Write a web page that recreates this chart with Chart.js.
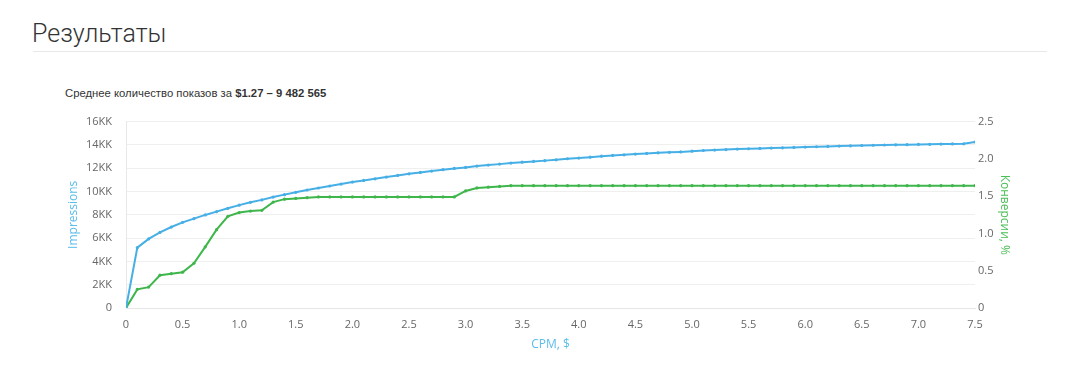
<!DOCTYPE html>
<html><head><meta charset="utf-8">
<script src="https://cdn.jsdelivr.net/npm/chart.js@4.4.0/dist/chart.umd.min.js"></script>
<style>
html,body{margin:0;padding:0;background:#fff;width:1080px;height:374px;overflow:hidden;}
#h{position:absolute;left:32px;top:19px;font-family:Roboto,"Liberation Sans",sans-serif;font-weight:300;font-size:25px;color:#333;margin:0;line-height:30px;}
#rule{position:absolute;left:33px;top:51px;width:1014px;height:1px;background:#e8e8e8;}
#sub{position:absolute;left:65px;top:85px;font-family:"Liberation Sans",Arial,sans-serif;font-size:11.3px;color:#333;line-height:16px;}
#wrap{position:absolute;left:0;top:101px;width:1080px;height:259px;}
</style></head><body>
<div id="h">Результаты</div>
<div id="rule"></div>
<div id="sub">Среднее количество показов за <b>$1.27 – 9 482 565</b></div>
<div id="wrap"><canvas id="c"></canvas></div>
<script>
const cpm = [0,0.1,0.2,0.3,0.4,0.5,0.6,0.7,0.8,0.9,1.0,1.1,1.2,1.3,1.4,1.5,1.6,1.7,1.8,1.9,2.0,2.1,2.2,2.3,2.4,2.5,2.6,2.7,2.8,2.9,3.0,3.1,3.2,3.3,3.4,3.5,3.6,3.7,3.8,3.9,4.0,4.1,4.2,4.3,4.4,4.5,4.6,4.7,4.8,4.9,5.0,5.1,5.2,5.3,5.4,5.5,5.6,5.7,5.8,5.9,6.0,6.1,6.2,6.3,6.4,6.5,6.6,6.7,6.8,6.9,7.0,7.1,7.2,7.3,7.4,7.5];
// impressions, millions (KK)
const impressions = [0,5.18,5.93,6.49,6.95,7.35,7.67,7.99,8.27,8.56,8.83,9.07,9.28,9.52,9.73,9.93,10.13,10.30,10.47,10.64,10.81,10.95,11.09,11.24,11.38,11.52,11.64,11.75,11.87,11.98,12.07,12.18,12.27,12.35,12.44,12.52,12.58,12.65,12.72,12.81,12.87,12.95,13.03,13.10,13.15,13.21,13.27,13.32,13.36,13.40,13.46,13.52,13.56,13.60,13.64,13.67,13.70,13.73,13.75,13.78,13.81,13.84,13.87,13.90,13.92,13.95,13.97,13.99,14.01,14.02,14.04,14.05,14.07,14.08,14.09,14.25];
// conversion, %
const conversion = [0,0.25,0.28,0.44,0.46,0.48,0.60,0.82,1.05,1.23,1.28,1.30,1.31,1.42,1.46,1.47,1.48,1.49,1.49,1.49,1.49,1.49,1.49,1.49,1.49,1.49,1.49,1.49,1.49,1.49,1.57,1.61,1.62,1.63,1.64,1.64,1.64,1.64,1.64,1.64,1.64,1.64,1.64,1.64,1.64,1.64,1.64,1.64,1.64,1.64,1.64,1.64,1.64,1.64,1.64,1.64,1.64,1.64,1.64,1.64,1.64,1.64,1.64,1.64,1.64,1.64,1.64,1.64,1.64,1.64,1.64,1.64,1.64,1.64,1.64,1.64];
const xTitle = 'CPM, $';
const leftTitle = 'Impressions';
const rightTitle = 'Конверсии, %';

const BLUE = '#46afe6', GREEN = '#3fb64b';
const tickFont = {family:'"Open Sans", sans-serif', size:11};
const titleFont = {family:'"Open Sans", sans-serif', size:12};

new Chart(document.getElementById('c'), {
  type:'line',
  data:{
    datasets:[
      {label:leftTitle, data:cpm.map((x,i)=>({x, y:impressions[i]})), yAxisID:'y', borderColor:BLUE, backgroundColor:BLUE, borderWidth:2, pointRadius:1.6, pointHoverRadius:2, pointBorderWidth:0, tension:0, order:1},
      {label:rightTitle, data:cpm.map((x,i)=>({x, y:conversion[i]})), yAxisID:'y1', borderColor:GREEN, backgroundColor:GREEN, borderWidth:2, pointRadius:1.6, pointHoverRadius:2, pointBorderWidth:0, tension:0, order:2}
    ]
  },
  options:{
    responsive:true, maintainAspectRatio:false, animation:false,
    layout:{padding:{top:11,left:0,right:0,bottom:0}},
    plugins:{legend:{display:false}, tooltip:{enabled:false}},
    scales:{
      x:{type:'linear', min:0, max:7.5,
        ticks:{stepSize:0.5, color:'#666', font:tickFont, padding:10, maxRotation:0,
          callback:v=> v===0 ? '0' : Number(v).toFixed(1)},
        grid:{display:false, drawTicks:false},
        border:{display:true, color:'#e6e6e6', width:1},
        title:{display:true, text:xTitle, color:'#5bbdea', font:titleFont, padding:{top:0,bottom:8}},
        afterFit:s=>{s.height=52;}
      },
      y:{position:'left', min:0, max:16,
        ticks:{stepSize:2, color:'#666', font:tickFont, padding:14,
          callback:v=> v===0 ? '0' : v+'KK'},
        grid:{color:'#efefef', drawTicks:false},
        border:{display:true, color:'#e8e8e8'},
        title:{display:true, text:leftTitle, color:'#5bbdea', font:titleFont, padding:{top:66,bottom:0}},
        afterFit:s=>{s.width=126;}
      },
      y1:{position:'right', min:0, max:2.5,
        ticks:{stepSize:0.5, color:'#666', font:tickFont, padding:3,
          callback:v=> v===0 ? '0' : Number(v).toFixed(1)},
        grid:{display:false, drawTicks:false},
        border:{display:false},
        title:{display:true, text:rightTitle, color:'#4cbf57', font:titleFont, padding:{top:68,bottom:0}},
        afterFit:s=>{s.width=105;}
      }
    }
  }
});
</script>
</body></html>
